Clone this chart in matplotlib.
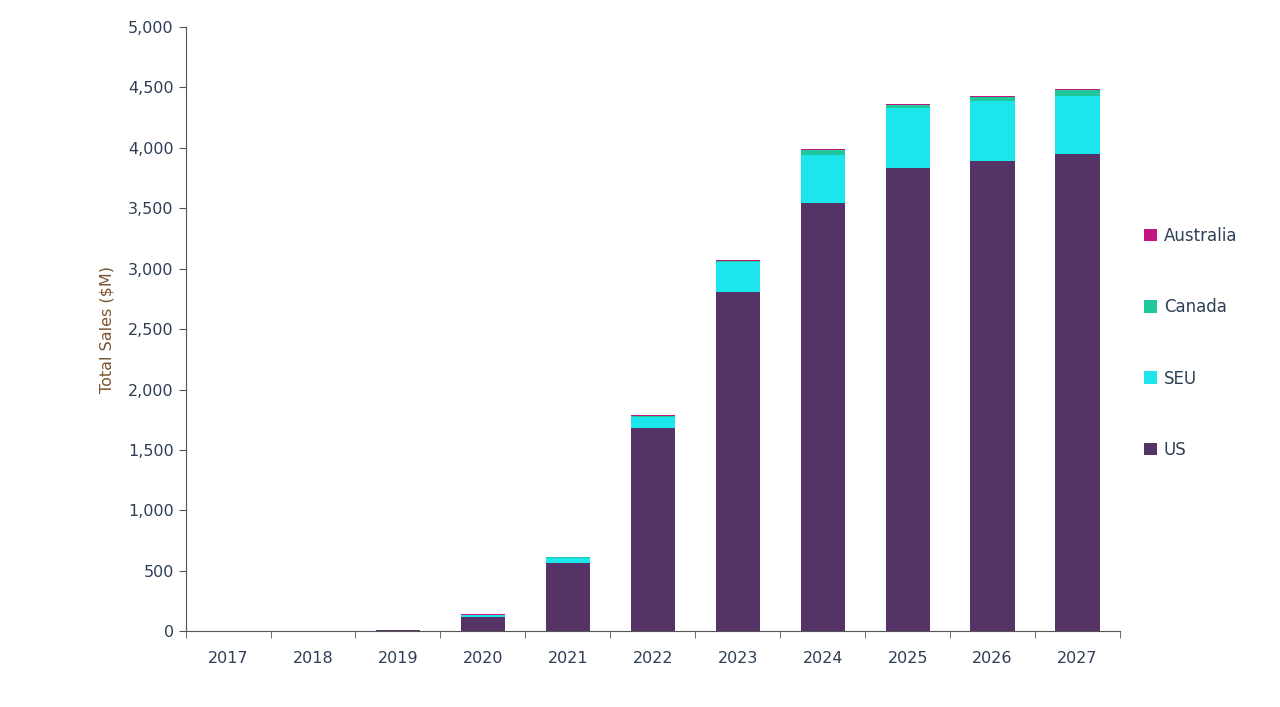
import matplotlib
matplotlib.use("Agg")
import matplotlib.pyplot as plt
import numpy as np

years = ["2017","2018","2019","2020","2021","2022","2023","2024","2025","2026","2027"]
us        = [0, 0, 8, 120, 565, 1680, 2805, 3540, 3830, 3890, 3950]
seu       = [0, 0, 2, 12, 40, 92, 250, 400, 500, 500, 480]
canada    = [0, 0, 1, 3, 8, 10, 8, 40, 20, 30, 50]
australia = [0, 0, 3, 5, 5, 5, 5, 10, 10, 10, 10]

fig = plt.figure(figsize=(12.8, 7.07), dpi=100)
ax = fig.add_axes([0.145, 0.107, 0.73, 0.855])
x = np.arange(len(years))
w = 0.52
b = np.zeros(len(years))
series = [("US", us, "#553366"), ("SEU", seu, "#1ce6ec"),
          ("Canada", canada, "#1fc79b"), ("Australia", australia, "#c4167f")]
handles = []
for name, vals, c in series:
    h = ax.bar(x, vals, w, bottom=b, color=c, label=name)
    b += np.array(vals)
    handles.append(h)

ax.set_xlim(-0.5, len(years) - 0.5)
ax.set_ylim(0, 5000)
ax.set_yticks(range(0, 5001, 500))
ax.set_yticklabels([f"{v:,}" for v in range(0, 5001, 500)])
ax.set_xticks(x)
ax.set_xticklabels(years)
ax.set_xticks(np.arange(-0.5, len(years), 1), minor=True)
ax.tick_params(axis="x", which="major", length=0, pad=14)
ax.tick_params(axis="x", which="minor", length=5, direction="out", color="#555555")
ax.tick_params(axis="y", length=5, direction="out", color="#555555")
ax.tick_params(labelsize=11.5, labelcolor="#2d3e55")
for s in ["top", "right"]:
    ax.spines[s].set_visible(False)
for s in ["left", "bottom"]:
    ax.spines[s].set_color("#555555")
ax.set_ylabel("Total Sales ($M)", fontsize=11.5, color="#7a5530", labelpad=10)

fig.legend(handles[::-1], [s[0] for s in series][::-1], loc="center left",
           bbox_to_anchor=(0.882, 0.515), frameon=False, fontsize=12,
           labelspacing=3.2, handlelength=0.8, handleheight=0.8, handletextpad=0.4,
           labelcolor="#2d3e55")
fig.savefig("out.png", dpi=100)
